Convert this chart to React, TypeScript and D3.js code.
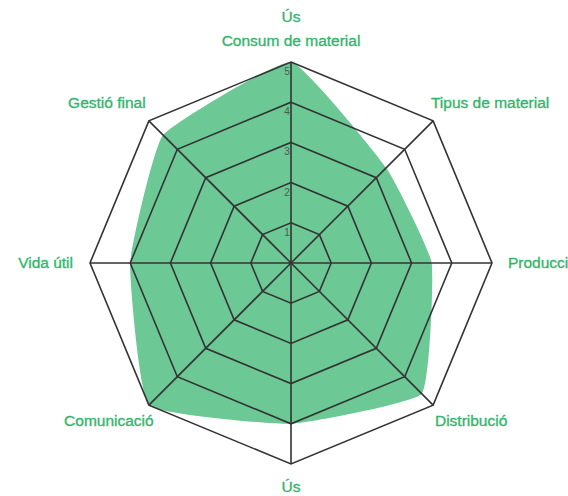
import React from "react";
import * as d3 from "d3";

const axes = [
  "Consum de material",
  "Tipus de material",
  "Producció",
  "Distribució",
  "Ús",
  "Comunicació",
  "Vida útil",
  "Gestió final",
];
const values = [5, 3.35, 3.5, 4.6, 4, 5, 4, 4.5];
const levels = [1, 2, 3, 4, 5];
const topTitle = "Ús";

const W = 568;
const H = 496;
const cx = 291;
const cy = 263;
const R = 201;

export default function App() {
  const r = d3.scaleLinear().domain([0, 5]).range([0, R]);
  const ang = (i: number) => (i * 2 * Math.PI) / axes.length;
  const px = (i: number, v: number) => r(v) * Math.sin(ang(i));
  const py = (i: number, v: number) => -r(v) * Math.cos(ang(i));

  const area = d3
    .lineRadial<number>()
    .angle((_, i) => ang(i))
    .radius((d) => r(d))
    .curve(d3.curveCardinalClosed.tension(0.65));

  const grid = d3
    .lineRadial<number>()
    .angle((_, i) => ang(i))
    .radius((d) => r(d))
    .curve(d3.curveLinearClosed);

  const labelPos = [
    { dx: 0, dy: -16, anchor: "middle" },
    { dx: 57, dy: -13, anchor: "middle" },
    { dx: 16, dy: 5, anchor: "start" },
    { dx: 38, dy: 21, anchor: "middle" },
    { dx: 0, dy: 28, anchor: "middle" },
    { dx: -40, dy: 21, anchor: "middle" },
    { dx: -17, dy: 5, anchor: "end" },
    { dx: -42, dy: -13, anchor: "middle" },
  ];

  const green = "#33b56c";

  return (
    <svg
      width={W}
      height={H}
      style={{ position: "absolute", left: 0, top: 0, background: "#fff" }}
      fontFamily="'Liberation Sans', Arial, sans-serif"
    >
      <g transform={`translate(${cx},${cy})`}>
        <path d={area(values) ?? ""} fill="#6cc894" stroke="none" />
        {levels.map((lv) => (
          <path
            key={lv}
            d={grid(axes.map(() => lv)) ?? ""}
            fill="none"
            stroke="#333"
            strokeWidth={1.6}
            strokeLinejoin="miter"
          />
        ))}
        {axes.map((a, i) => (
          <line
            key={a}
            x1={0}
            y1={0}
            x2={px(i, 5)}
            y2={py(i, 5)}
            stroke="#333"
            strokeWidth={1.6}
          />
        ))}
        {levels.map((lv) => (
          <text
            key={"t" + lv}
            x={-4}
            y={-r(lv) + 13}
            fontSize={10}
            fill="#555"
            textAnchor="middle"
          >
            {lv}
          </text>
        ))}
        {axes.map((a, i) => (
          <text
            key={"l" + a}
            x={px(i, 5) + labelPos[i].dx}
            y={py(i, 5) + labelPos[i].dy}
            fontSize={15.5}
            fill={green}
            stroke={green}
            strokeWidth={0.35}
            textAnchor={labelPos[i].anchor as any}
          >
            {a}
          </text>
        ))}
        <text
          x={0}
          y={-r(5) - 40}
          fontSize={15.5}
          fill={green}
          stroke={green}
          strokeWidth={0.35}
          textAnchor="middle"
        >
          {topTitle}
        </text>
      </g>
    </svg>
  );
}
